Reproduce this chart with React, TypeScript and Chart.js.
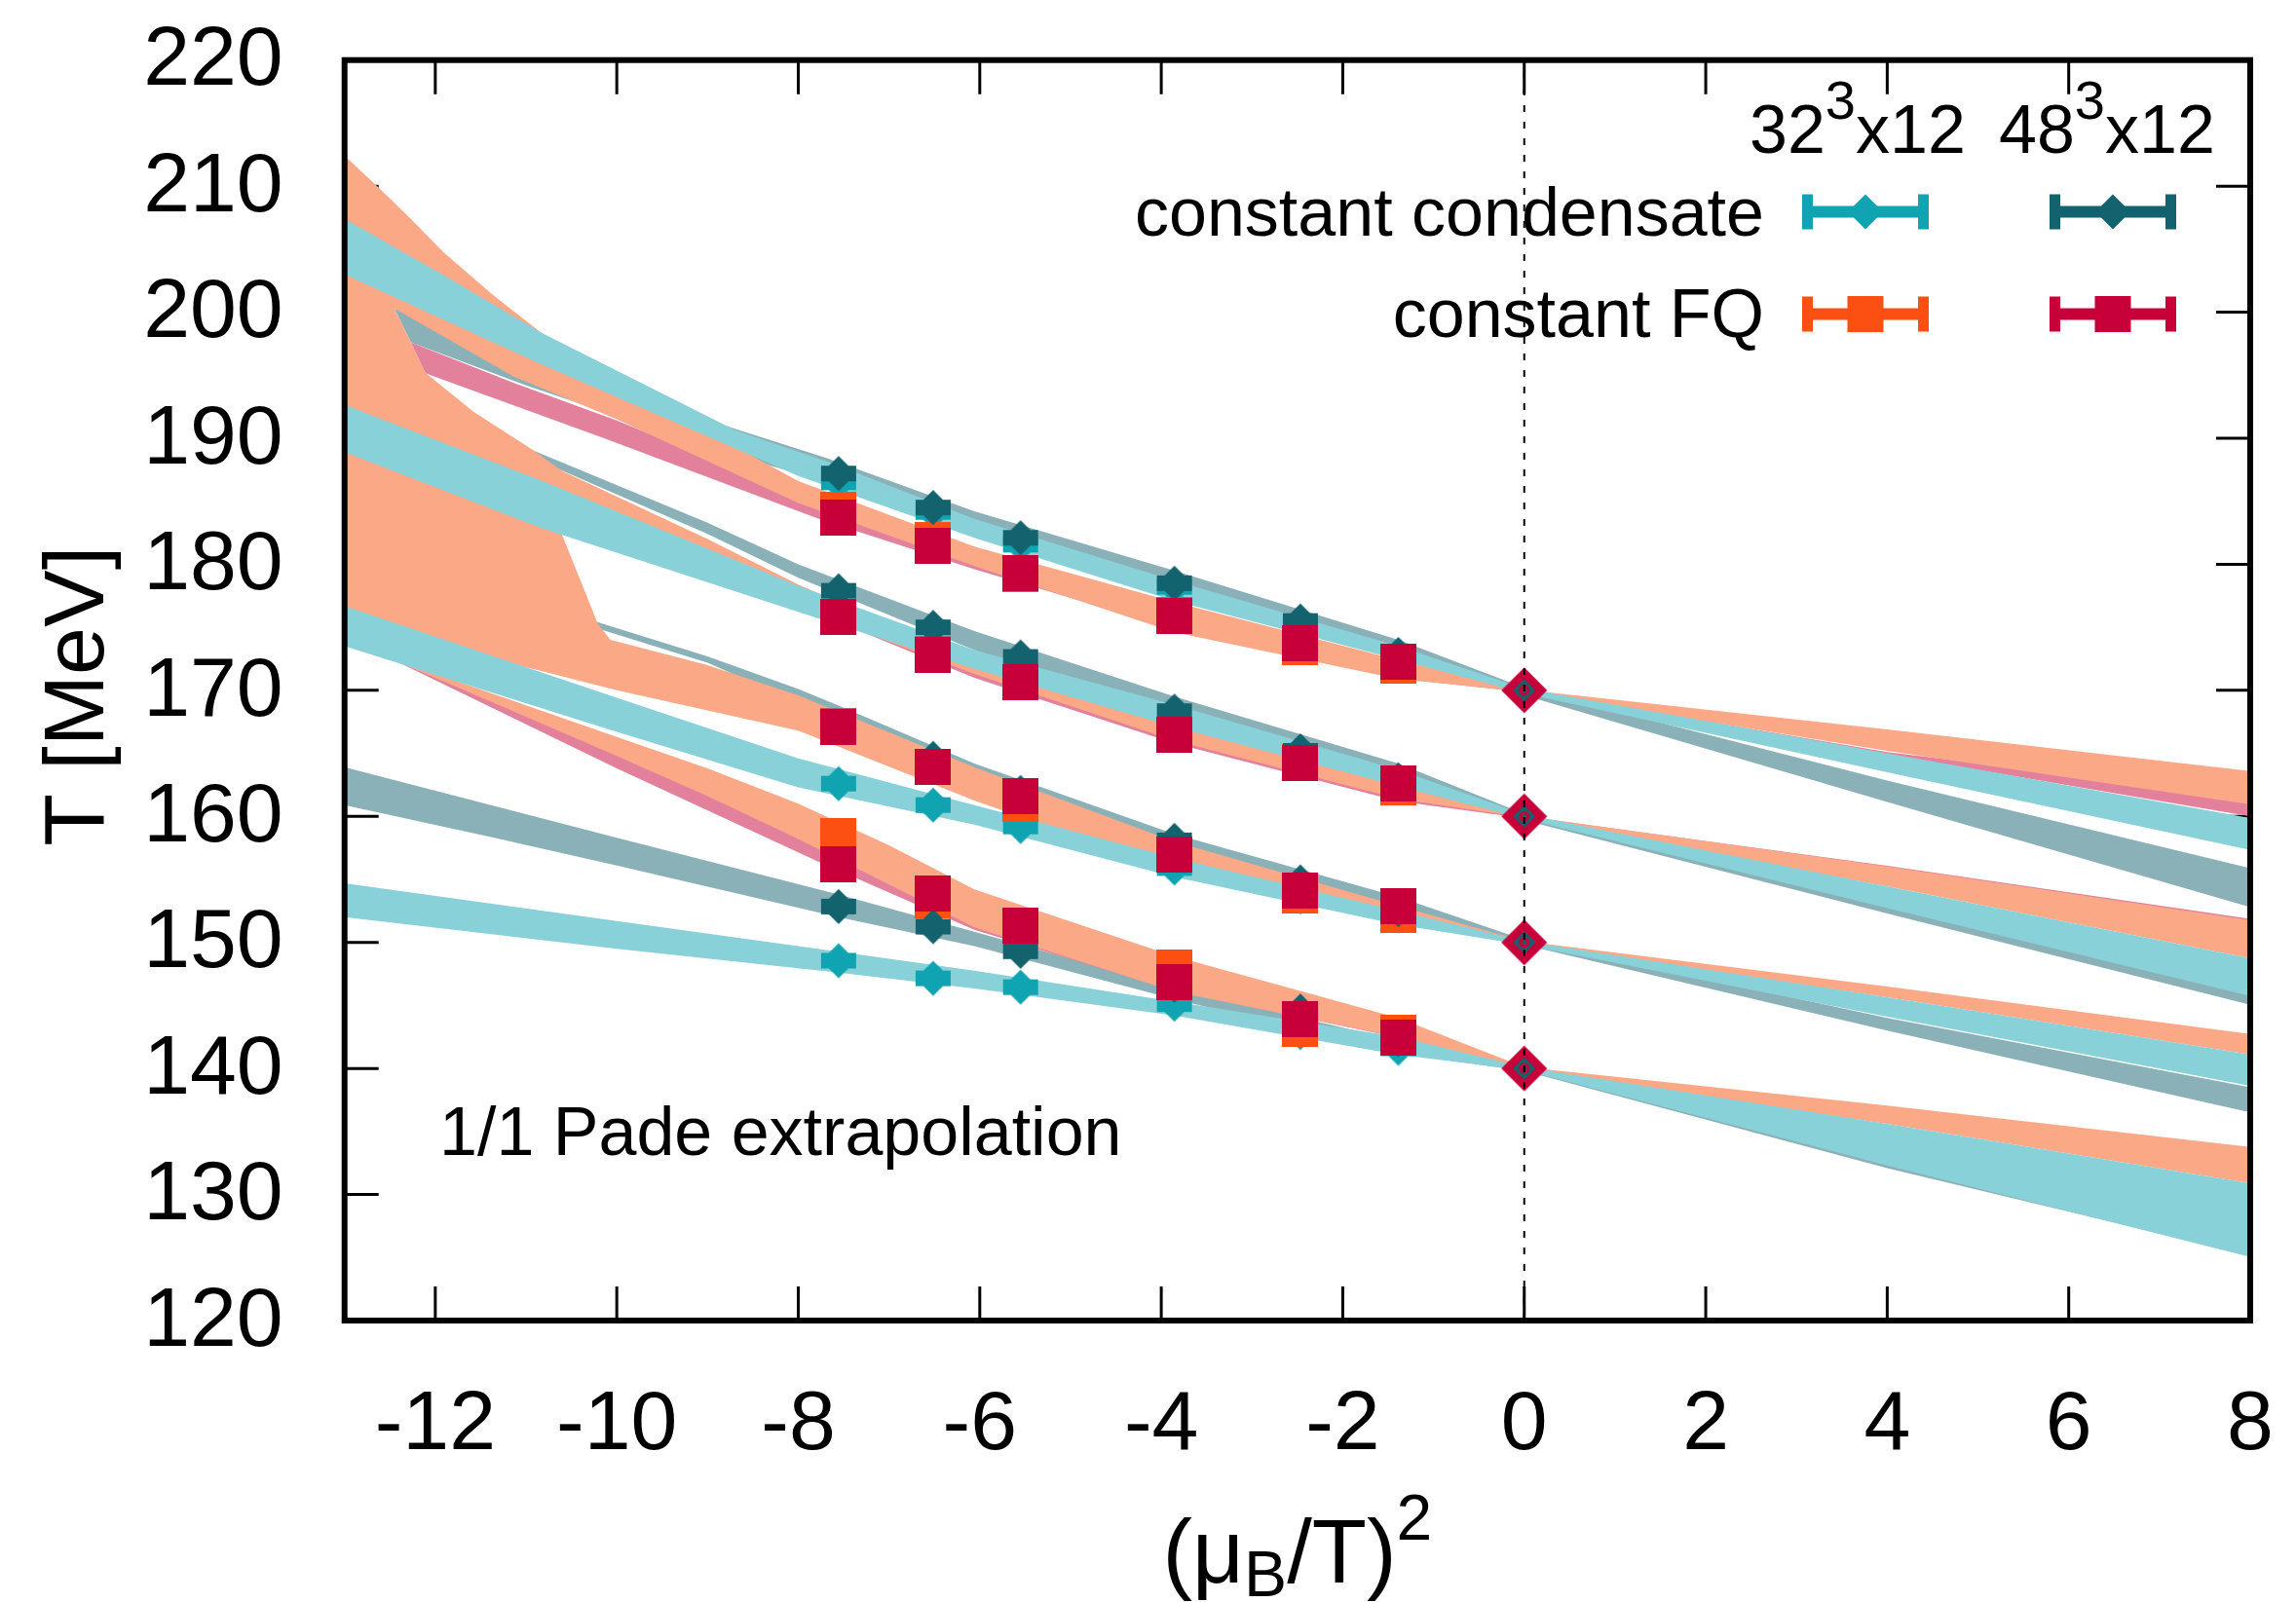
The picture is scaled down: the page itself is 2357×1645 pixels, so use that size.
import React, { useEffect, useRef } from 'react';
import { Chart, registerables } from 'chart.js';

Chart.register(...registerables);

const W = 2357;
const H = 1645;
const FONT = '"Liberation Sans", Arial, Helvetica, sans-serif';

// ---------- axes ----------
const X_MIN = -13;
const X_MAX = 8;
const Y_MIN = 120;
const Y_MAX = 220;
const X_TICKS = [-12, -10, -8, -6, -4, -2, 0, 2, 4, 6, 8];
const Y_TICKS = [120, 130, 140, 150, 160, 170, 180, 190, 200, 210, 220];

// ---------- data points: (mu_B/T)^2 (imaginary chemical potential) ----------
const MU2 = [-7.556, -6.514, -5.551, -3.855, -2.467, -1.388];

// constant condensate, 32^3x12 (cyan diamonds)
const COND32_170 = [186.5, 184.15, 181.55, 178.2, 175.3, 172.6];
const COND32_160 = [176.0, 173.1, 170.9, 166.7, 164.4, 162.7];
const COND32_150 = [162.6, 160.9, 159.2, 155.9, 153.6, 152.1];
const COND32_140 = [148.55, 147.15, 146.45, 145.1, 142.85, 141.6];
// constant condensate, 48^3x12 (dark teal diamonds)
const COND48_170 = [187.2, 184.5, 182.1, 178.5, 175.5, 172.85];
const COND48_160 = [177.9, 175.0, 172.65, 168.35, 165.2, 162.9];
const COND48_150 = [167.1, 164.6, 161.9, 158.1, 154.8, 152.6];
const COND48_140 = [152.85, 151.25, 149.3, 146.6, 144.55, 142.3];
// constant FQ, 32^3x12 (orange squares)
const FQ32_170 = [184.3, 181.95, 179.2, 176.0, 173.4, 171.95];
const FQ32_160 = [175.85, 172.9, 170.65, 166.5, 164.3, 162.3];
const FQ32_150 = [167.15, 163.9, 161.0, 157.0, 153.7, 152.2];
const FQ32_140 = [158.45, 153.3, 151.3, 148.0, 143.15, 142.85];
// constant FQ, 48^3x12 (crimson squares)
const FQ48_170 = [183.7, 181.5, 179.3, 175.9, 173.7, 172.27];
const FQ48_160 = [175.8, 172.8, 170.65, 166.5, 164.25, 162.6];
const FQ48_150 = [167.1, 163.9, 161.6, 157.0, 154.1, 152.87];
const FQ48_140 = [156.2, 153.85, 151.35, 146.87, 143.9, 142.47];

// points at mu_B = 0
const T0 = [170, 160, 150, 140];

// ---------- 1/1 Pade extrapolation bands: [x, T] upper and lower edges ----------
// group through 170 MeV
const CYAN170_HI = [[-13, 207.4], [-11.9, 202.9], [-10.84, 198.4], [-8.7, 190.65], [-7.62, 188.0], [-6.06, 183.6], [-3.855, 178.7], [-1.388, 173.5], [0, 170.15], [4, 165.0], [8, 159.87]];
const CYAN170_LO = [[-13, 203.0], [-10.84, 195.9], [-8.7, 189.2], [-8.0, 187.0], [-6.06, 182.1], [-3.855, 177.1], [-1.388, 172.45], [0, 169.75], [4, 163.5], [8, 157.34]];
const SALMON170_HI = [[-13, 212.4], [-12.64, 210.0], [-12.27, 207.4], [-11.91, 204.75], [-11.37, 201.4], [-10.84, 198.4], [-9.5, 192.5], [-8.0, 186.6], [-6.06, 181.4], [-3.855, 177.0], [-1.388, 172.4], [0, 170.05], [4, 166.9], [8, 163.6]];
const SALMON170_LO = [[-13, 201.5], [-12.45, 200.3], [-11.14, 194.9], [-10, 191.5], [-8.0, 184.86], [-6.06, 179.85], [-3.855, 174.6], [-1.388, 170.9], [0, 169.9], [4, 165.2], [8, 160.95]];
const PINK170_HI = [[-12.27, 197.6], [-11.14, 194.4], [-10, 191.4], [-7.76, 184.8], [-6.06, 180.4], [-3.855, 175.8], [-1.388, 171.6], [0, 170.0], [4, 165.1], [8, 161.6]];
const PINK170_LO = [[-12.11, 195.15], [-10.14, 190.0], [-7.76, 183.57], [-6.06, 179.6], [-3.855, 174.9], [-1.388, 170.95], [0, 169.85], [4, 164.9], [8, 160.0]];
const GRAY170_HI = [[-12.45, 200.3], [-10, 193.9], [-8.7, 190.75], [-7.7, 188.45], [-6.06, 184.2], [-3.855, 179.5], [-1.388, 174.0], [0, 170.2], [4, 162.85], [8, 155.88]];
const GRAY170_LO = [[-12.27, 197.6], [-11, 194.2], [-8.7, 188.6], [-7.7, 186.6], [-6.06, 182.8], [-3.855, 177.9], [-1.388, 172.8], [0, 169.6], [4, 161.15], [8, 152.79]];
// group through 160 MeV
const CYAN160_HI = [[-13, 192.65], [-10.84, 186.65], [-8.0, 178.3], [-6.06, 173.2], [-3.855, 168.85], [-1.388, 163.7], [0, 160.15], [4, 154.44], [8, 148.74]];
const CYAN160_LO = [[-13, 188.9], [-10.84, 182.9], [-7.78, 175.7], [-6.06, 171.7], [-3.855, 167.1], [-1.388, 162.4], [0, 159.8], [4, 152.73], [8, 145.75]];
const GRAY160_HI = [[-12.3, 193.5], [-10.91, 189.0], [-9, 183.3], [-8.0, 180.0], [-6.06, 174.7], [-3.855, 169.5], [-1.388, 164.2], [0, 160.2], [4, 153.4], [8, 147.0]];
const GRAY160_LO = [[-12.3, 192.7], [-10.91, 188.4], [-9, 182.4], [-8.0, 178.94], [-6.06, 173.2], [-3.855, 167.9], [-1.388, 162.8], [0, 159.7], [4, 152.3], [8, 145.06]];
const SALMON160_HI = [[-13, 204.5], [-12.6, 203.2], [-12.45, 200.3], [-12.11, 195.2], [-11.58, 192.1], [-10.93, 189.1], [-10.6, 187.4], [-9, 182.0], [-8.0, 178.4], [-6.06, 172.3], [-3.855, 167.4], [-1.388, 162.6], [0, 160.05], [4, 156.03], [8, 151.76]];
const SALMON160_LO = [[-13, 191.5], [-10.84, 185.0], [-7.78, 176.0], [-6.06, 171.3], [-3.855, 166.0], [-1.388, 161.4], [0, 159.9], [4, 154.44], [8, 148.74]];
const PINK160_HI = [[-9, 181.0], [-7.556, 176.4], [-6.06, 171.6], [-3.855, 166.8], [-1.388, 162.1], [0, 160.0], [4, 156.08], [8, 151.88]];
const PINK160_LO = [[-9, 180.0], [-7.556, 175.4], [-6.06, 171.0], [-3.855, 165.8], [-1.388, 161.2], [0, 159.85], [4, 155.3], [8, 150.9]];
// group through 150 MeV
const CYAN150_HI = [[-13, 176.7], [-10, 169.4], [-8, 164.6], [-6.06, 160.9], [-3.855, 156.7], [-1.388, 152.5], [0, 150.1], [4, 145.65], [8, 141.12]];
const CYAN150_LO = [[-13, 173.5], [-10, 166.7], [-8, 162.3], [-6.06, 159.35], [-3.855, 155.2], [-1.388, 151.4], [0, 149.8], [4, 144.1], [8, 138.62]];
const GRAY150_HI = [[-10.3, 175.6], [-9, 172.7], [-8, 170.1], [-7.556, 168.8], [-6.06, 164.2], [-3.855, 158.6], [-1.388, 153.6], [0, 150.2], [4, 144.0], [8, 138.5]];
const GRAY150_LO = [[-10.3, 175.1], [-9, 172.2], [-8, 169.0], [-7.556, 167.4], [-6.06, 163.0], [-3.855, 157.6], [-1.388, 152.6], [0, 149.8], [4, 143.0], [8, 136.51]];
const SALMON150_HI = [[-13, 190.0], [-11.2, 186.0], [-10.64, 183.0], [-10.21, 175.3], [-10.07, 174.0], [-9, 172.0], [-8, 169.6], [-6.06, 163.9], [-3.855, 158.0], [-1.388, 152.9], [0, 150.1], [4, 146.5], [8, 142.74]];
const SALMON150_LO = [[-13, 175.5], [-10, 170.0], [-9, 168.4], [-8, 166.8], [-6.06, 161.25], [-3.855, 155.75], [-1.388, 152.0], [0, 149.9], [4, 145.65], [8, 141.12]];
const PINK150_HI = [[-9, 170.0], [-7.556, 166.9], [-6.06, 163.2], [-3.855, 157.5], [-1.388, 152.6], [0, 150.0], [4, 146.0], [8, 142.2]];
const PINK150_LO = [[-9, 169.0], [-7.556, 165.9], [-6.06, 161.8], [-3.855, 156.2], [-1.388, 152.1], [0, 149.9], [4, 145.9], [8, 141.6]];
// group through 140 MeV
const CYAN140_HI = [[-13, 154.7], [-10, 151.7], [-7.556, 149.26], [-6.06, 147.76], [-3.855, 145.3], [-1.388, 142.5], [0, 140.1], [4, 135.6], [8, 130.89]];
const CYAN140_LO = [[-13, 152.0], [-10, 149.5], [-7.556, 147.6], [-6.06, 146.35], [-3.855, 144.2], [-1.388, 141.1], [0, 139.85], [4, 132.3], [8, 125.05]];
const GRAY140_HI = [[-13, 163.9], [-10, 158.3], [-7.556, 153.8], [-6.06, 150.85], [-3.855, 146.4], [-1.388, 142.2], [0, 140.15], [4, 134.0], [8, 128.5]];
const GRAY140_LO = [[-13, 160.9], [-11.35, 158.3], [-10, 156.1], [-7.556, 152.0], [-6.06, 149.7], [-3.855, 145.5], [-1.388, 141.2], [0, 139.8], [4, 132.1], [8, 125.2]];
const SALMON140_HI = [[-12.43, 172.4], [-10, 166.3], [-9, 163.8], [-8, 161.0], [-7, 157.7], [-6.06, 154.2], [-3.855, 148.9], [-1.388, 144.0], [0, 140.1], [4, 137.05], [8, 133.78]];
const SALMON140_LO = [[-12.43, 172.35], [-10, 164.8], [-9, 161.6], [-8, 158.2], [-7, 154.6], [-6.06, 151.2], [-3.855, 146.1], [-1.388, 142.5], [0, 139.9], [4, 135.6], [8, 130.89]];
const PINK140_HI = [[-12.43, 172.35], [-10, 164.9], [-7.78, 158.5], [-6.06, 152.5], [-3.855, 146.6], [-1.388, 142.8], [0, 139.95], [4, 135.9], [8, 131.8]];
const PINK140_LO = [[-12.43, 172.3], [-10, 163.8], [-7.78, 156.4], [-6.06, 151.0], [-3.855, 146.15], [-1.388, 142.45], [0, 139.85], [4, 135.7], [8, 131.4]];

// ---------- colours ----------
const C_CYAN = '#10A3B1';
const C_DARK = '#12636E';
const C_ORANGE = '#FC4F12';
const C_CRIMSON = '#C70039';
const B_CYAN = '#88D1D8';
const B_GRAY = '#8AB1B7';
const B_SALMON = '#FBA887';
const B_PINK = '#E3819D';

type Pt = number[];

function bandPolygon(hi: Pt[], lo: Pt[]) {
  const up = hi.map(([x, y]) => ({ x, y }));
  const dn = lo.slice().reverse().map(([x, y]) => ({ x, y }));
  return [...up, ...dn];
}

function seriesPoints(groups: number[][]) {
  const out: { x: number; y: number }[] = [];
  groups.forEach((arr) => arr.forEach((y, i) => out.push({ x: MU2[i], y })));
  return out;
}

function makeCanvas(w: number, h: number, draw: (g: CanvasRenderingContext2D) => void) {
  const c = document.createElement('canvas');
  c.width = w;
  c.height = h;
  const g = c.getContext('2d') as CanvasRenderingContext2D;
  draw(g);
  return c;
}

function diamondPath(g: CanvasRenderingContext2D, cx: number, cy: number, r: number) {
  g.beginPath();
  g.moveTo(cx, cy - r);
  g.lineTo(cx + r, cy);
  g.lineTo(cx, cy + r);
  g.lineTo(cx - r, cy);
  g.closePath();
}

function diamondMarker(color: string) {
  return makeCanvas(40, 40, (g) => {
    g.fillStyle = color;
    diamondPath(g, 20, 20, 18);
    g.fill();
    g.fillRect(2, 12, 36, 16);
  });
}

function squareMarker(color: string) {
  return makeCanvas(37, 37, (g) => {
    g.fillStyle = color;
    g.fillRect(0, 0, 37, 37);
  });
}

function zeroMarker() {
  return makeCanvas(48, 48, (g) => {
    g.fillStyle = C_CRIMSON;
    diamondPath(g, 24, 24, 23.5);
    g.fill();
    g.fillStyle = C_DARK;
    diamondPath(g, 24, 24, 11.5);
    g.fill();
    g.fillStyle = C_CRIMSON;
    g.beginPath();
    g.arc(24, 24, 5.5, 0, Math.PI * 2);
    g.fill();
    g.fillStyle = C_DARK;
    g.beginPath();
    g.arc(24, 24, 2.2, 0, Math.PI * 2);
    g.fill();
  });
}

function legendSymbol(ctx: CanvasRenderingContext2D, cx: number, cy: number, color: string, kind: string) {
  const half = 65;
  ctx.fillStyle = color;
  ctx.fillRect(cx - half, cy - 6, 2 * half, 12);
  ctx.fillRect(cx - half, cy - 18, 11, 36);
  ctx.fillRect(cx + half - 11, cy - 18, 11, 36);
  if (kind === 'diamond') {
    diamondPath(ctx, cx, cy, 18);
    ctx.fill();
  } else {
    ctx.fillRect(cx - 18.5, cy - 18.5, 37, 37);
  }
}

function drawPieces(ctx: CanvasRenderingContext2D, x: number, baseline: number, pieces: { t: string; f: number; dy: number }[]) {
  let cx = x;
  ctx.textAlign = 'left';
  ctx.textBaseline = 'alphabetic';
  for (const p of pieces) {
    ctx.font = `${p.f}px ${FONT}`;
    ctx.fillText(p.t, cx, baseline + p.dy);
    cx += ctx.measureText(p.t).width;
  }
  return cx;
}

function piecesWidth(ctx: CanvasRenderingContext2D, pieces: { t: string; f: number; dy: number }[]) {
  let w = 0;
  for (const p of pieces) {
    ctx.font = `${p.f}px ${FONT}`;
    w += ctx.measureText(p.t).width;
  }
  return w;
}

const decorPlugin = {
  id: 'decor',
  beforeDatasetsDraw(chart: any) {
    const { ctx, chartArea: a, scales } = chart;
    const xs = scales.x;
    const ys = scales.y;
    ctx.save();
    ctx.strokeStyle = '#000';
    ctx.lineWidth = 3;
    ctx.beginPath();
    for (const v of X_TICKS) {
      const px = xs.getPixelForValue(v);
      ctx.moveTo(px, a.bottom);
      ctx.lineTo(px, a.bottom - 35);
      ctx.moveTo(px, a.top);
      ctx.lineTo(px, a.top + 35);
    }
    for (const v of Y_TICKS) {
      const py = ys.getPixelForValue(v);
      ctx.moveTo(a.left, py);
      ctx.lineTo(a.left + 35, py);
      ctx.moveTo(a.right, py);
      ctx.lineTo(a.right - 35, py);
    }
    ctx.stroke();
    ctx.restore();
  },
  afterDatasetsDraw(chart: any) {
    const { ctx, chartArea: a, scales } = chart;
    const xs = scales.x;
    const ys = scales.y;
    ctx.save();
    // frame
    ctx.strokeStyle = '#000';
    ctx.lineWidth = 6;
    ctx.strokeRect(a.left, a.top, a.right - a.left, a.bottom - a.top);

    ctx.fillStyle = '#000';
    // y tick labels
    ctx.font = `86px ${FONT}`;
    ctx.textAlign = 'right';
    ctx.textBaseline = 'middle';
    for (const v of Y_TICKS) {
      ctx.fillText(String(v), a.left - 63, ys.getPixelForValue(v) + 2);
    }
    // x tick labels
    ctx.textAlign = 'center';
    ctx.textBaseline = 'alphabetic';
    for (const v of X_TICKS) {
      ctx.fillText(String(v), xs.getPixelForValue(v), a.bottom + 132);
    }

    // y axis title
    ctx.save();
    ctx.translate(106, (a.top + a.bottom) / 2 + 6);
    ctx.rotate(-Math.PI / 2);
    ctx.font = `88px ${FONT}`;
    ctx.textAlign = 'center';
    ctx.textBaseline = 'alphabetic';
    ctx.fillText('T [MeV]', 0, 0);
    ctx.restore();

    // x axis title (mu_B/T)^2
    const xt = [
      { t: '(\u03bc', f: 92, dy: 0 },
      { t: 'B', f: 66, dy: 14 },
      { t: '/T)', f: 92, dy: 0 },
      { t: '2', f: 66, dy: -44 },
    ];
    const xw = piecesWidth(ctx, xt);
    drawPieces(ctx, (a.left + a.right) / 2 - xw / 2, 1625, xt);

    // annotation
    ctx.font = `70px ${FONT}`;
    ctx.textAlign = 'left';
    ctx.fillText('1/1 Pade extrapolation', 451, 1186);

    // legend headers
    drawPieces(ctx, 1796, 157, [
      { t: '32', f: 70, dy: 0 },
      { t: '3', f: 56, dy: -35 },
      { t: 'x12', f: 70, dy: 0 },
    ]);
    drawPieces(ctx, 2052, 157, [
      { t: '48', f: 70, dy: 0 },
      { t: '3', f: 56, dy: -35 },
      { t: 'x12', f: 70, dy: 0 },
    ]);
    ctx.font = `70px ${FONT}`;
    ctx.textAlign = 'right';
    ctx.fillStyle = '#000';
    ctx.fillText('constant condensate', 1811, 242);
    ctx.fillText('constant FQ', 1811, 346);
    legendSymbol(ctx, 1915, 217.5, C_CYAN, 'diamond');
    legendSymbol(ctx, 2169, 217.5, C_DARK, 'diamond');
    legendSymbol(ctx, 1915, 322.5, C_ORANGE, 'square');
    legendSymbol(ctx, 2169, 322.5, C_CRIMSON, 'square');
    ctx.restore();
  },
};

export default function App() {
  const ref = useRef<HTMLCanvasElement | null>(null);

  useEffect(() => {
    document.body.style.margin = '0';
    const canvas = ref.current;
    if (!canvas) return;

    const bands = [
      // bottom layer: 48^3 condensate bands
      { hi: GRAY170_HI, lo: GRAY170_LO, c: B_GRAY },
      { hi: GRAY160_HI, lo: GRAY160_LO, c: B_GRAY },
      { hi: GRAY150_HI, lo: GRAY150_LO, c: B_GRAY },
      { hi: GRAY140_HI, lo: GRAY140_LO, c: B_GRAY },
      // 48^3 FQ bands
      { hi: PINK170_HI, lo: PINK170_LO, c: B_PINK },
      { hi: PINK160_HI, lo: PINK160_LO, c: B_PINK },
      { hi: PINK150_HI, lo: PINK150_LO, c: B_PINK },
      { hi: PINK140_HI, lo: PINK140_LO, c: B_PINK },
      // 32^3 FQ bands
      { hi: SALMON170_HI, lo: SALMON170_LO, c: B_SALMON },
      { hi: SALMON160_HI, lo: SALMON160_LO, c: B_SALMON },
      { hi: SALMON150_HI, lo: SALMON150_LO, c: B_SALMON },
      { hi: SALMON140_HI, lo: SALMON140_LO, c: B_SALMON },
      // 32^3 condensate bands (top)
      { hi: CYAN170_HI, lo: CYAN170_LO, c: B_CYAN },
      { hi: CYAN160_HI, lo: CYAN160_LO, c: B_CYAN },
      { hi: CYAN150_HI, lo: CYAN150_LO, c: B_CYAN },
      { hi: CYAN140_HI, lo: CYAN140_LO, c: B_CYAN },
    ];

    const datasets: any[] = bands.map((b) => ({
      data: bandPolygon(b.hi, b.lo),
      showLine: true,
      fill: 'shape',
      backgroundColor: b.c,
      borderColor: 'rgba(0,0,0,0)',
      borderWidth: 0,
      pointRadius: 0,
      tension: 0,
    }));

    const markerSets = [
      { data: seriesPoints([COND32_170, COND32_160, COND32_150, COND32_140]), img: diamondMarker(C_CYAN) },
      { data: seriesPoints([FQ32_170, FQ32_160, FQ32_150, FQ32_140]), img: squareMarker(C_ORANGE) },
      { data: seriesPoints([COND48_170, COND48_160, COND48_150, COND48_140]), img: diamondMarker(C_DARK) },
      { data: seriesPoints([FQ48_170, FQ48_160, FQ48_150, FQ48_140]), img: squareMarker(C_CRIMSON) },
      { data: T0.map((y) => ({ x: 0, y })), img: zeroMarker() },
    ];
    for (const m of markerSets) {
      datasets.push({
        data: m.data,
        showLine: false,
        fill: false,
        pointStyle: m.img,
        pointRadius: 10,
        backgroundColor: 'rgba(0,0,0,0)',
        borderColor: 'rgba(0,0,0,0)',
      });
    }
    // dashed vertical line at mu_B = 0
    datasets.push({
      data: [{ x: 0, y: Y_MIN }, { x: 0, y: Y_MAX }],
      showLine: true,
      fill: false,
      borderColor: '#000',
      borderWidth: 2,
      borderDash: [7, 10],
      pointRadius: 0,
    });

    const N = datasets.length;
    datasets.forEach((d, i) => {
      d.order = N - i;
    });

    const chart = new Chart(canvas, {
      type: 'scatter',
      data: { datasets },
      options: {
        animation: false,
        responsive: false,
        devicePixelRatio: 1,
        events: [],
        layout: { padding: { left: 353.7, right: W - 2310, top: 61.7, bottom: H - 1356 } },
        scales: {
          x: { type: 'linear', min: X_MIN, max: X_MAX, display: false },
          y: { type: 'linear', min: Y_MIN, max: Y_MAX, display: false },
        },
        plugins: {
          legend: { display: false },
          tooltip: { enabled: false },
          title: { display: false },
        },
      } as any,
      plugins: [decorPlugin as any],
    });

    return () => {
      chart.destroy();
    };
  }, []);

  return (
    <div style={{ width: W, height: H, background: '#fff' }}>
      <canvas ref={ref} width={W} height={H} style={{ display: 'block', width: W, height: H }} />
    </div>
  );
}
